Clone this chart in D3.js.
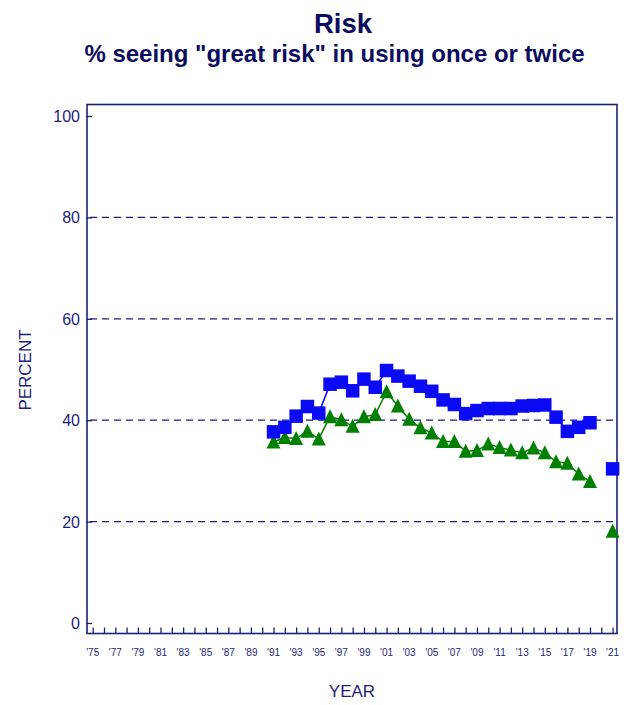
<!DOCTYPE html>
<html>
<head>
<meta charset="utf-8">
<script src="https://cdn.jsdelivr.net/npm/d3@7"></script>
<style>
  body { margin: 0; background: #fff; }
  text { font-family: "Liberation Sans", Arial, sans-serif; }
</style>
</head>
<body>
<script>
// data
var years = d3.range(1975, 2022);
var tickLabels = years.filter(function (y) { return (y - 1975) % 2 === 0; });
var yTicks = [0, 20, 40, 60, 80, 100];

var squareYears = [1991, 1992, 1993, 1994, 1995, 1996, 1997, 1998, 1999, 2000,
  2001, 2002, 2003, 2004, 2005, 2006, 2007, 2008, 2009, 2010,
  2011, 2012, 2013, 2014, 2015, 2016, 2017, 2018, 2019, 2021];
var squareValues = [37.7, 38.6, 40.8, 42.7, 41.4, 47.1, 47.5, 45.8, 48.1, 46.5,
  49.8, 48.7, 47.7, 46.7, 45.7, 44.0, 43.1, 41.3, 41.9, 42.3,
  42.3, 42.3, 42.8, 42.9, 43.0, 40.6, 37.8, 38.6, 39.5, 30.4];

var triangleYears = squareYears;
var triangleValues = [35.7, 36.6, 36.4, 37.8, 36.3, 40.7, 40.1, 38.8, 40.7, 41.1,
  45.6, 42.8, 40.2, 38.5, 37.5, 35.8, 35.8, 33.9, 34.0, 35.3,
  34.6, 34.1, 33.6, 34.5, 33.6, 31.8, 31.5, 29.4, 27.9, 18.1];

var navy = '#1e1e78';

var svg = d3.select('body').append('svg').attr('width', 628).attr('height', 705);

var x = d3.scaleLinear().domain([1975, 2021]).range([92.7, 612.6]);
var y = d3.scaleLinear().domain([0, 100]).range([623, 116]);

// titles
svg.append('text').attr('x', 343).attr('y', 33).attr('text-anchor', 'middle')
  .attr('font-size', 27.5).attr('font-weight', 'bold').attr('fill', '#0c0c5e').text('Risk');
svg.append('text').attr('x', 334.5).attr('y', 62).attr('text-anchor', 'middle')
  .attr('font-size', 24).attr('font-weight', 'bold').attr('fill', '#0c0c5e')
  .text('% seeing "great risk" in using once or twice');

// frame
svg.append('rect').attr('x', 87).attr('y', 104.5).attr('width', 530).attr('height', 529)
  .attr('fill', 'none').attr('stroke', navy).attr('stroke-width', 1.6);

// dashed gridlines
svg.selectAll('.grid').data(yTicks.filter(function (d) { return d > 0 && d < 100; }))
  .enter().append('line').attr('class', 'grid')
  .attr('x1', 90).attr('x2', 617)
  .attr('y1', function (d) { return y(d); }).attr('y2', function (d) { return y(d); })
  .attr('stroke', navy).attr('stroke-width', 1.3).attr('stroke-dasharray', '7,5');

// y axis
var yAxis = d3.axisRight(y).tickValues(yTicks).tickSize(5).tickFormat('');
var gy = svg.append('g').attr('transform', 'translate(87,0)').call(yAxis);
gy.select('.domain').remove();
gy.selectAll('line').attr('stroke', navy).attr('stroke-width', 1.3);
svg.selectAll('.ylab').data(yTicks).enter().append('text').attr('class', 'ylab')
  .attr('x', 80).attr('y', function (d) { return y(d) + 6; })
  .attr('text-anchor', 'end').attr('font-size', 16).attr('fill', navy)
  .text(function (d) { return d; });

// x axis
var xAxis = d3.axisTop(x).tickValues(years).tickSize(6).tickFormat('');
var gx = svg.append('g').attr('transform', 'translate(0,633.5)').call(xAxis);
gx.select('.domain').remove();
gx.selectAll('line').attr('stroke', navy).attr('stroke-width', 1.3);
svg.selectAll('.xlab').data(tickLabels).enter().append('text').attr('class', 'xlab')
  .attr('x', function (d) { return x(d); }).attr('y', 656)
  .attr('text-anchor', 'middle').attr('font-size', 10).attr('fill', navy)
  .text(function (d) { return "'" + String(d).slice(2); });

// axis titles
svg.append('text').attr('x', 352).attr('y', 697).attr('text-anchor', 'middle')
  .attr('font-size', 17).attr('fill', navy).text('YEAR');
svg.append('text').attr('transform', 'translate(31,370) rotate(-90)')
  .attr('text-anchor', 'middle').attr('font-size', 17).attr('fill', navy).text('PERCENT');

// series
function seriesData(yrs, vals) {
  return yrs.map(function (d, i) { return { year: d, value: vals[i] }; });
}
var squares = seriesData(squareYears, squareValues);
var triangles = seriesData(triangleYears, triangleValues);

var line = d3.line()
  .defined(function (d) { return d.value !== null; })
  .x(function (d) { return x(d.year); })
  .y(function (d) { return y(d.value); });

// insert a gap for the missing 2020 survey
function withGap(data) {
  var out = [];
  data.forEach(function (d) {
    if (d.year === 2021) out.push({ year: 2020, value: null });
    out.push(d);
  });
  return out;
}

svg.append('path').datum(withGap(triangles)).attr('d', line)
  .attr('fill', 'none').attr('stroke', '#008000').attr('stroke-width', 1.5);
svg.append('path').datum(withGap(squares)).attr('d', line)
  .attr('fill', 'none').attr('stroke', '#0000ff').attr('stroke-width', 1.5);

// triangle marker, about 14px wide
svg.selectAll('.tri').data(triangles).enter().append('path').attr('class', 'tri')
  .attr('d', 'M0,-7.5L7,6.5L-7,6.5Z')
  .attr('transform', function (d) { return 'translate(' + x(d.year) + ',' + y(d.value) + ')'; })
  .attr('fill', '#008000');

svg.selectAll('.sq').data(squares).enter().append('rect').attr('class', 'sq')
  .attr('x', function (d) { return x(d.year) - 6.75; })
  .attr('y', function (d) { return y(d.value) - 6.75; })
  .attr('width', 13.5).attr('height', 13.5)
  .attr('fill', '#0a0af5');
</script>
</body>
</html>
